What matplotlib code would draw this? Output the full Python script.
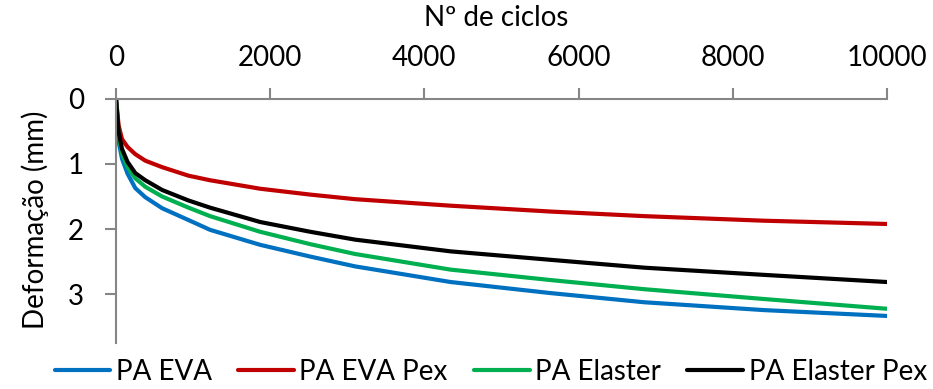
import matplotlib.pyplot as plt

plt.rcParams['font.family'] = ['Lato', 'DejaVu Sans']

# data
ciclos = [0, 34, 78, 150, 250, 380, 600, 940, 1220, 1870, 2520, 3100, 4340, 5640, 6850, 8400, 10000]
pa_eva = [0, 0.66, 0.92, 1.15, 1.37, 1.51, 1.68, 1.86, 2.01, 2.24, 2.42, 2.57, 2.81, 2.98, 3.12, 3.24, 3.33]
pa_eva_pex = [0, 0.41, 0.62, 0.74, 0.85, 0.95, 1.05, 1.18, 1.25, 1.38, 1.47, 1.54, 1.64, 1.73, 1.80, 1.87, 1.92]
pa_elaster = [0, 0.55, 0.84, 1.05, 1.22, 1.35, 1.50, 1.67, 1.80, 2.04, 2.23, 2.38, 2.62, 2.78, 2.92, 3.07, 3.22]
pa_elaster_pex = [0, 0.51, 0.77, 0.97, 1.14, 1.25, 1.40, 1.56, 1.67, 1.89, 2.04, 2.16, 2.34, 2.47, 2.59, 2.70, 2.81]

series = [("PA EVA", pa_eva, "#0070C0"),
          ("PA EVA Pex", pa_eva_pex, "#C00000"),
          ("PA Elaster", pa_elaster, "#00B050"),
          ("PA Elaster Pex", pa_elaster_pex, "#000000")]

fig = plt.figure(figsize=(9.33, 3.89), dpi=100)
ax = fig.add_axes([116 / 933, 1 - 342.7 / 389, (887 - 116) / 933, (342.7 - 98.7) / 389])

for name, vals, col in series:
    ax.plot(ciclos, vals, color=col, lw=3, label=name, solid_capstyle='round',
            solid_joinstyle='round')

ax.set_xlim(0, 10000)
ax.set_ylim(3.74, 0)
ax.set_xticks([0, 2000, 4000, 6000, 8000, 10000])
ax.set_yticks([0, 1, 2, 3])
ax.xaxis.tick_top()

for s in ["right", "bottom"]:
    ax.spines[s].set_visible(False)
for s in ["left", "top"]:
    ax.spines[s].set_color("#868686")
    ax.spines[s].set_linewidth(1.5)

ax.tick_params(axis="x", length=8, width=1.5, color="#868686", labelsize=20, pad=12)
ax.tick_params(axis="y", length=8, width=1.5, color="#868686", labelsize=20, pad=15)

fig.text(0.532, 1 - 18 / 389, "Nº de ciclos", ha="center", va="center", fontsize=20)
fig.text(35 / 933, 1 - 220 / 389, "Deformação (mm)", ha="center", va="center",
         rotation=90, fontsize=20)

fig.legend(loc="center", bbox_to_anchor=(0.526, 1 - 372 / 389), ncol=4, frameon=False,
           fontsize=20, handlelength=2.0, handletextpad=0.2, columnspacing=0.95,
           borderaxespad=0)

fig.savefig("out.png", dpi=100)
